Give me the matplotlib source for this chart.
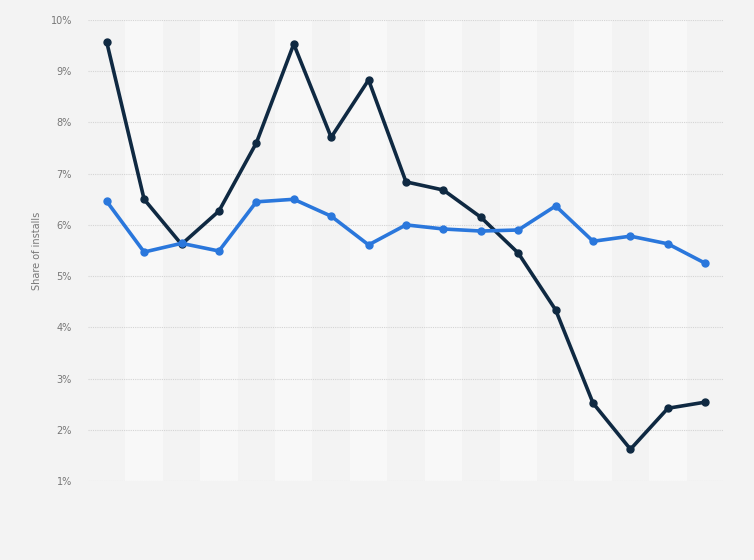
import matplotlib
matplotlib.use("Agg")
import matplotlib.pyplot as plt
from matplotlib.ticker import FuncFormatter

periods = list(range(17))
series_dark = [9.57, 6.50, 5.62, 6.27, 7.60, 9.53, 7.71, 8.83, 6.84, 6.68, 6.15,
               5.45, 4.34, 2.52, 1.62, 2.42, 2.54]
series_blue = [6.46, 5.47, 5.64, 5.49, 6.45, 6.50, 6.17, 5.61, 6.00, 5.92, 5.88,
               5.90, 6.37, 5.68, 5.78, 5.63, 5.25]
y_ticks = [1, 2, 3, 4, 5, 6, 7, 8, 9, 10]

bg = "#f3f3f3"
fig = plt.figure(figsize=(7.54, 5.6), dpi=100, facecolor=bg)
ax = fig.add_axes([88/754, 1-481/560, (724-88)/754, (481-20)/560])
ax.set_facecolor(bg)

for i in periods:
    if i % 2 == 1:
        ax.axvspan(i - 0.5, i + 0.5, color="#f8f8f8", zorder=0, lw=0)

ax.set_xlim(-0.5, len(periods) - 0.5)
ax.set_ylim(1, 10)
ax.set_yticks(y_ticks)
ax.yaxis.set_major_formatter(FuncFormatter(lambda v, p: f"{int(v)}%"))
ax.grid(axis="y", color="#d4d4d4", linestyle=(0, (1, 1)), linewidth=0.8, zorder=1)
ax.set_xticks([])
for s in ax.spines.values():
    s.set_visible(False)
ax.tick_params(axis="y", length=0, pad=11.5, labelsize=7, labelcolor="#777777")

ax.plot(periods, series_dark, color="#0f2942", lw=2.6, marker="o", ms=5, zorder=3)
ax.plot(periods, series_blue, color="#2a77dc", lw=2.6, marker="o", ms=5, zorder=3)

ax.set_ylabel("Share of installs", fontsize=7, color="#777777", labelpad=6)

fig.savefig("out.png", dpi=100, facecolor=bg)
